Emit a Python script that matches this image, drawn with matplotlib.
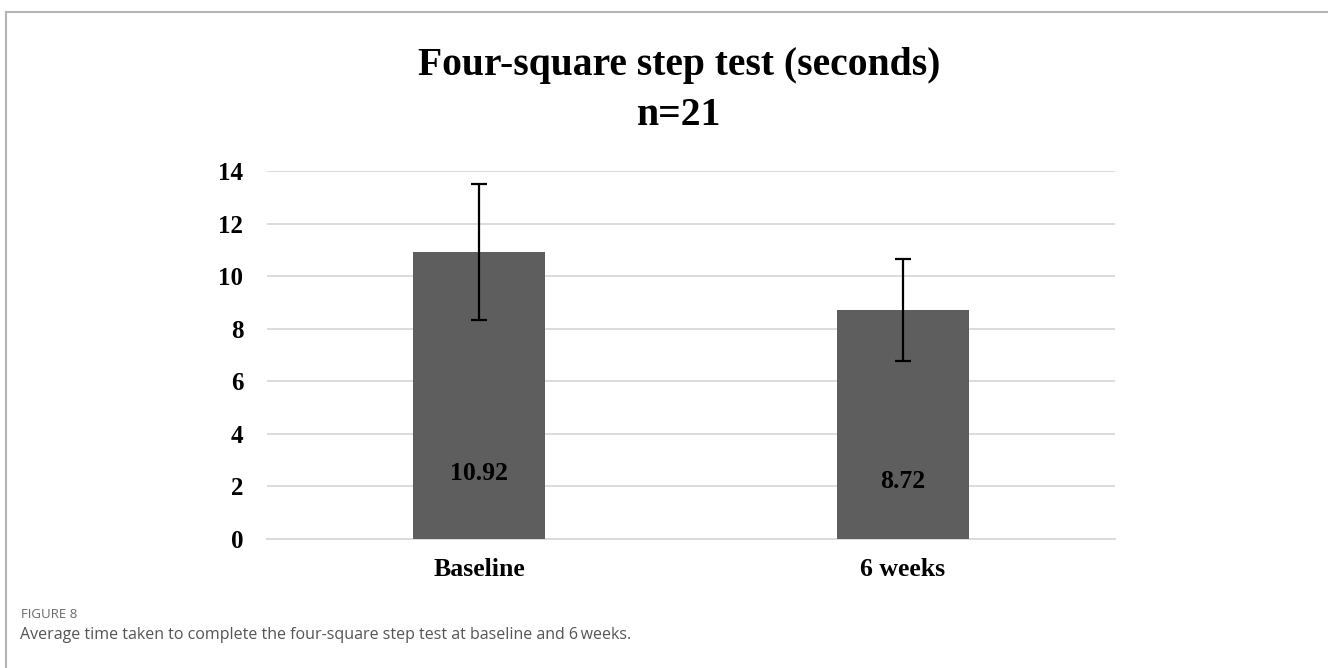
import matplotlib.pyplot as plt
from matplotlib.lines import Line2D

# four-square step test, mean +/- SD
groups = ['Baseline', '6 weeks']
means = [10.92, 8.72]
sds = [2.58, 1.93]
yticks = [0, 2, 4, 6, 8, 10, 12, 14]

serif = ['Liberation Serif', 'DejaVu Serif']
W, H = 1328, 668

fig = plt.figure(figsize=(W / 100, H / 100), dpi=100)
ax = fig.add_axes([267 / W, 1 - 539 / H, 848 / W, 368 / H])

x = range(len(groups))
ax.bar(x, means, width=0.31, color='#5e5e5e', zorder=3)
ax.errorbar(x, means, yerr=sds, fmt='none', ecolor='black', elinewidth=1.6,
            capsize=6, capthick=1.6, zorder=4)
# value labels sit near the bottom of each bar
label_y = [2.5, 2.2]
for i, m, ly in zip(x, means, label_y):
    ax.text(i, ly, '{0:.2f}'.format(m), ha='center', va='center',
            fontsize=18.5, fontweight='bold', family=serif, zorder=5)

ax.set_xlim(-0.5, 1.5)
ax.set_ylim(0, 14)
ax.set_yticks(yticks)
ax.set_xticks(list(x))
ax.set_xticklabels(groups, family=serif, fontsize=18.5, fontweight='bold')
ax.set_yticklabels([str(t) for t in yticks], family=serif, fontsize=18,
                   fontweight='bold')
ax.tick_params(length=0)
ax.tick_params(axis='y', pad=17)
ax.tick_params(axis='x', pad=14)
ax.yaxis.grid(True, color='#d9d9d9', linewidth=1.3, zorder=0)
for s in ['top', 'right', 'left']:
    ax.spines[s].set_visible(False)
ax.spines['bottom'].set_color('#d9d9d9')
ax.spines['bottom'].set_linewidth(1.3)

fig.text(679 / W, 1 - 75 / H, 'Four-square step test (seconds)',
         ha='center', va='baseline', fontsize=28.5, fontweight='bold', family=serif)
fig.text(679 / W, 1 - 125 / H, 'n=21', ha='center', va='baseline',
         fontsize=28.5, fontweight='bold', family=serif)

# outer frame
fig.add_artist(Line2D([6 / W, 6 / W], [0, 1 - 12 / H], color='#b4b4b4',
                      linewidth=1.5, transform=fig.transFigure))
fig.add_artist(Line2D([6 / W, 1], [1 - 12 / H, 1 - 12 / H], color='#b4b4b4',
                      linewidth=1.5, transform=fig.transFigure))

fig.text(21 / W, 1 - 614 / H, 'FIGURE 8', ha='left', va='center',
         fontsize=9.5, color='#6a6a6a', family='Open Sans')
fig.text(20 / W, 1 - 635 / H,
         'Average time taken to complete the four-square step test at baseline and 6\u2009weeks.',
         ha='left', va='center', fontsize=11.5, color='#555555',
         family=['Open Sans', 'DejaVu Sans'])

fig.savefig('out.png', dpi=100)
